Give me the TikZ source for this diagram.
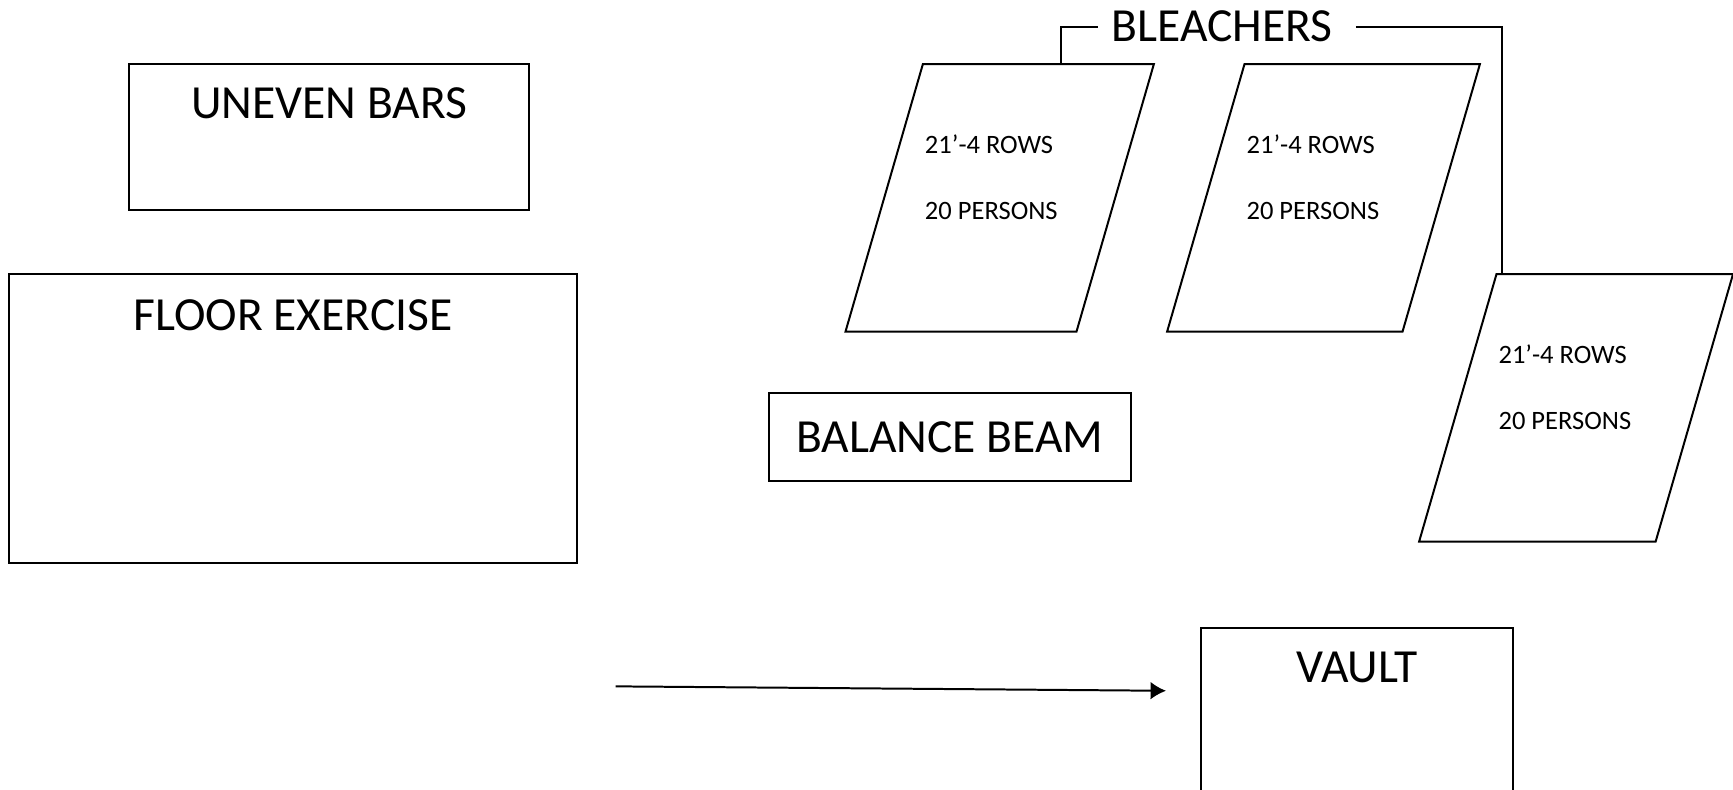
\documentclass[tikz,border=0pt]{standalone}
\usepackage{fontspec}
\setmainfont{Carlito}
\usetikzlibrary{arrows.meta}
\tikzset{
	box/.style={draw, line width=0.9pt, inner sep=0pt},
	title/.style={font=\fontsize{21.5}{24}\selectfont, inner sep=0pt},
	small/.style={font=\fontsize{12}{15}\selectfont, inner sep=0pt, anchor=base west},
}

\begin{document}
\begin{tikzpicture}[x=0.5pt, y=-0.5pt, line width=0.9pt]
		%%%%% START %%%%%
		\useasboundingbox (0, 0) rectangle (1568, 714);
		
		\node[box, minimum width=181pt, minimum height=66pt] (bars) at (298, 124) {};
		\node[title, anchor=base] (barstitle) at ([yshift=-25.25pt]bars.north) {UNEVEN BARS};
		
		\node[box, minimum width=257pt, minimum height=130.5pt] (floor) at (265, 378.5) {};
		\node[title, anchor=base] (floortitle) at ([yshift=-25.75pt]floor.north) {FLOOR EXERCISE};
		
		\node[box, title, minimum width=163.5pt, minimum height=39.5pt] (beam) at (859.5, 395.5) {BALANCE BEAM};
		
		\node[box, anchor=north, minimum width=141pt, minimum height=90pt] (vault) at (1228, 567) {};
		\node[title, anchor=base] (vaulttitle) at ([yshift=-25.25pt]vault.north) {VAULT};
		
		% bleachers
		\foreach \name/\x/\y/\w in {b1/765/300/209, b2/1056/300/213, b3/1284/490/214} {
			\draw (\x, \y) -- ++(\w, 0) -- ++(70, -242) -- ++(-\w, 0) -- cycle;
			\coordinate (\name-tl) at (\x+70, \y-242);
			\node[small] (\name-rows) at ([xshift=0.5pt, yshift=-40.5pt]\name-tl) {21’-4 ROWS};
			\node[small] (\name-persons) at ([xshift=0.5pt, yshift=-70.5pt]\name-tl) {20 PERSONS};
		}
		
		\node[title, inner xsep=6pt] (bleach) at (1106, 24) {BLEACHERS};
		\coordinate (hookl) at ([xshift=62.5pt]b1-tl);
		\coordinate (hookr) at ([xshift=2.5pt]b3-tl);
		\draw (hookl) |- (bleach.west);
		\draw ([xshift=4pt]bleach.east) -| (hookr);
		
		\coordinate (arrowtail) at (557, 621);
		\coordinate (arrowtip) at (1055, 625);
		\draw[-{Latex[length=7pt, width=8pt]}] (arrowtail) -- (arrowtip);
		%%%%% END %%%%%
	\end{tikzpicture}
\end{document}
